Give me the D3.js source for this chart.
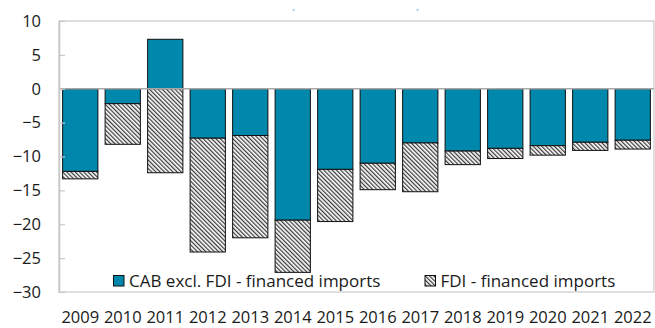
<!DOCTYPE html>
<html>
<head>
<meta charset="utf-8">
<script src="https://cdn.jsdelivr.net/npm/d3@7"></script>
<style>
  html, body { margin: 0; padding: 0; background: #fff; }
  svg { display: block; font-family: "Open Sans", sans-serif; }
</style>
</head>
<body>
<svg id="chart" width="655" height="328"></svg>
<script>
// Current account balance split, % of GDP
const years = ["2009","2010","2011","2012","2013","2014","2015","2016","2017","2018","2019","2020","2021","2022"];
const cabExclFdi = [-12.2, -2.2, 7.3, -7.3, -6.9, -19.4, -11.9, -11.0, -8.0, -9.2, -8.8, -8.4, -7.9, -7.6];
const fdiFinanced = [-1.1, -6.0, -12.4, -16.8, -15.1, -7.7, -7.7, -3.9, -7.2, -2.0, -1.5, -1.4, -1.2, -1.3];
const seriesNames = ["CAB excl. FDI - financed imports", "FDI - financed imports"];
const yTicks = [10, 5, 0, -5, -10, -15, -20, -25, -30];

const rows = years.map((y, i) => ({ year: y, cab: cabExclFdi[i], fdi: fdiFinanced[i] }));

const svg = d3.select("#chart");
const plot = { left: 59, right: 654, top: 21, bottom: 292 };
const blue = "#0087ac";
const axisFont = 16.5;

// diagonal hatch for the FDI series
const defs = svg.append("defs");
const pat = defs.append("pattern")
  .attr("id", "hatch")
  .attr("patternUnits", "userSpaceOnUse")
  .attr("width", 3).attr("height", 3)
  .attr("patternTransform", "rotate(-45)");
pat.append("rect").attr("width", 3).attr("height", 3).attr("fill", "#fff");
pat.append("line").attr("x1", 0.6).attr("y1", 0).attr("x2", 0.6).attr("y2", 3)
  .attr("stroke", "#3a3a3a").attr("stroke-width", 1.3);

const x = d3.scaleBand()
  .domain(years)
  .range([plot.left, plot.right])
  .paddingInner(0.17)
  .paddingOuter(0.085);

const y = d3.scaleLinear()
  .domain([-30, 10])
  .range([plot.bottom, plot.top]);

// plot frame
svg.append("rect")
  .attr("x", plot.left).attr("y", plot.top)
  .attr("width", plot.right - plot.left).attr("height", plot.bottom - plot.top)
  .attr("fill", "none").attr("stroke", "#d4d4d4").attr("stroke-width", 1.5);

const stack = d3.stack()
  .keys(["cab", "fdi"])
  .offset(d3.stackOffsetDiverging);
const stacked = stack(rows);
const fills = { cab: blue, fdi: "url(#hatch)" };

svg.append("g").selectAll("g")
  .data(stacked)
  .join("g")
  .attr("fill", d => fills[d.key])
  .selectAll("rect")
  .data(d => d)
  .join("rect")
  .attr("x", d => x(d.data.year))
  .attr("width", x.bandwidth())
  .attr("y", d => y(Math.max(d[0], d[1])))
  .attr("height", d => Math.abs(y(d[0]) - y(d[1])))
  .attr("stroke", "#111")
  .attr("stroke-width", 1);

// zero line
svg.append("line")
  .attr("x1", plot.left).attr("x2", plot.right)
  .attr("y1", y(0)).attr("y2", y(0))
  .attr("stroke", "#a8a8a8").attr("stroke-width", 1.5);

// y axis
const yAxis = svg.append("g")
  .attr("transform", `translate(${plot.left},0)`)
  .call(d3.axisLeft(y).tickValues(yTicks).tickSizeInner(-6).tickSizeOuter(0).tickPadding(18));
yAxis.select(".domain").attr("stroke", "#c8c8c8").attr("stroke-width", 1.5);
yAxis.selectAll(".tick line").attr("stroke", "#c8c8c8").attr("stroke-width", 1.2);
yAxis.selectAll(".tick text")
  .attr("font-size", axisFont).attr("fill", "#1a1a1a")
  .style("font-family", "'Open Sans', sans-serif");

// year labels
const xAxis = svg.append("g")
  .attr("transform", `translate(0,${plot.bottom})`)
  .call(d3.axisBottom(x).tickSize(0).tickPadding(19.5));
xAxis.select(".domain").remove();
xAxis.selectAll(".tick text")
  .attr("font-size", axisFont).attr("fill", "#1a1a1a")
  .style("font-family", "'Open Sans', sans-serif");

// legend
const legend = svg.append("g");
const items = [
  { name: seriesNames[0], fill: blue, x: 113.5 },
  { name: seriesNames[1], fill: "url(#hatch)", x: 425 }
];
items.forEach(it => {
  legend.append("rect")
    .attr("x", it.x).attr("y", 275.5)
    .attr("width", 10.5).attr("height", 10.5)
    .attr("fill", it.fill).attr("stroke", "#111").attr("stroke-width", 1);
  legend.append("text")
    .attr("x", it.x + 15.5).attr("y", 287)
    .attr("font-size", 17).attr("fill", "#1a1a1a")
    .text(it.name);
});

// small marks above the frame
svg.append("text").attr("x", 292).attr("y", 18).attr("font-size", 10).attr("fill", "#3a9fd0").text("`");
svg.append("text").attr("x", 416).attr("y", 18).attr("font-size", 10).attr("fill", "#3a9fd0").text("´");
</script>
</body>
</html>
